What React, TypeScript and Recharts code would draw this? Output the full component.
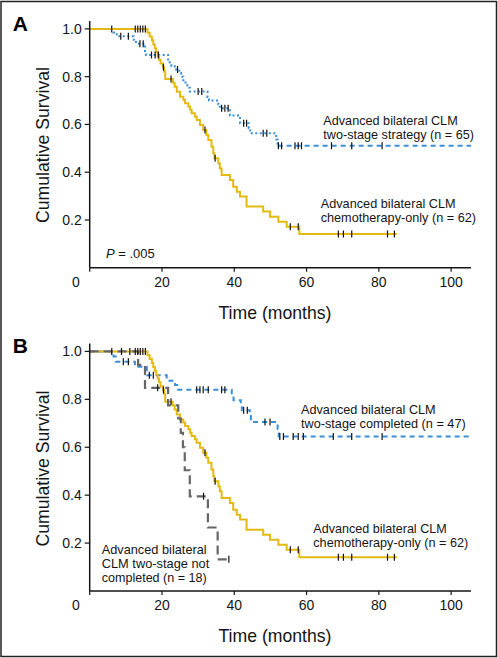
import React from "react";
import { ComposedChart, Line, Scatter, XAxis, YAxis } from "recharts";

// ---- Data ----
// Chemotherapy-only group (n = 62) — same curve in both panels
const chemoTime = [0, 16.0, 16.6, 17.2, 17.6, 18.0, 18.4, 18.8, 19.2, 19.6, 20.3, 20.6, 20.9, 23.0, 23.5, 24.1, 25.0, 25.9, 26.4, 27.3, 27.8, 28.2, 29.1, 29.6, 30.5, 31.4, 32.3, 32.8, 33.7, 34.2, 34.5, 35.6, 36.0, 36.5, 38.8, 39.7, 40.7, 41.6, 43.4, 48.0, 49.9, 52.2, 54.5, 58.0, 85.0];
const chemoSurv = [1.0, 0.984, 0.968, 0.952, 0.935, 0.919, 0.903, 0.887, 0.871, 0.855, 0.839, 0.822, 0.790, 0.774, 0.758, 0.737, 0.716, 0.703, 0.689, 0.675, 0.661, 0.647, 0.633, 0.619, 0.598, 0.577, 0.556, 0.535, 0.507, 0.479, 0.458, 0.437, 0.416, 0.388, 0.367, 0.339, 0.318, 0.298, 0.256, 0.235, 0.214, 0.193, 0.172, 0.141, 0.141];
const chemoCensorTime = [6.1, 12.6, 13.3, 14.0, 14.7, 15.4, 20.4, 22.5, 31.9, 34.7, 55.5, 57.7, 68.8, 70.2, 72.5, 82.4, 84.3];
const chemoCensorSurv = [1, 1, 1, 1, 1, 1, 0.839, 0.790, 0.577, 0.458, 0.172, 0.172, 0.141, 0.141, 0.141, 0.141, 0.141];

// Two-stage strategy (n = 65) — panel A
const twoStageTime = [0, 6.5, 7.5, 12.2, 12.8, 15.3, 15.6, 21.7, 22.6, 23.5, 24.8, 25.3, 25.9, 26.5, 27.0, 27.7, 32.6, 33.0, 35.6, 36.0, 38.8, 41.6, 44.0, 44.4, 51.6, 52.0, 105.5];
const twoStageSurv = [1.0, 0.985, 0.969, 0.954, 0.938, 0.907, 0.891, 0.860, 0.845, 0.830, 0.815, 0.800, 0.785, 0.770, 0.754, 0.738, 0.715, 0.700, 0.684, 0.668, 0.637, 0.605, 0.584, 0.563, 0.537, 0.511, 0.511];
const twoStageCensorTime = [8.6, 10.7, 13.9, 14.8, 17.1, 18.1, 19.0, 24.3, 30.0, 31.0, 36.5, 37.4, 38.3, 42.6, 43.4, 48.0, 49.0, 52.2, 53.1, 56.8, 57.7, 58.6, 66.9, 72.5, 80.9];
const twoStageCensorSurv = [0.969, 0.969, 0.938, 0.938, 0.891, 0.891, 0.891, 0.830, 0.738, 0.738, 0.668, 0.668, 0.668, 0.605, 0.605, 0.563, 0.563, 0.511, 0.511, 0.511, 0.511, 0.511, 0.511, 0.511, 0.511];

// Two-stage completed (n = 47) — panel B
const completedTime = [0, 6.6, 7.2, 12.5, 15.8, 21.3, 23.6, 24.5, 39.3, 39.8, 41.8, 42.1, 44.3, 44.6, 52.0, 52.3, 105.3];
const completedSurv = [1.0, 0.979, 0.957, 0.936, 0.900, 0.878, 0.860, 0.840, 0.818, 0.796, 0.775, 0.754, 0.730, 0.705, 0.676, 0.645, 0.645];
const completedCensorTime = [9.3, 10.7, 16.5, 17.6, 29.6, 30.5, 31.4, 32.8, 36.5, 37.4, 42.6, 43.6, 48.5, 49.9, 52.6, 53.6, 56.3, 57.7, 59.1, 67.4, 72.5, 80.9];
const completedCensorSurv = [0.957, 0.957, 0.900, 0.900, 0.840, 0.840, 0.840, 0.840, 0.840, 0.840, 0.754, 0.754, 0.705, 0.705, 0.645, 0.645, 0.645, 0.645, 0.645, 0.645, 0.645, 0.645];

// Two-stage not completed (n = 18) — panel B
const notCompTime = [0, 13.4, 15.3, 21.7, 24.5, 25.2, 25.8, 26.3, 27.7, 32.7, 35.4, 38.8];
const notCompSurv = [1.0, 0.944, 0.848, 0.775, 0.720, 0.660, 0.600, 0.504, 0.395, 0.265, 0.132, 0.132];
const notCompCensorTime = [8.8, 11.1, 18.8, 31.5, 38.5];
const notCompCensorSurv = [1, 1, 0.848, 0.395, 0.132];

const xTicks = [0, 20, 40, 60, 80, 100];
const yTicks = [0.2, 0.4, 0.6, 0.8, 1.0];

// ---- helpers ----
const rows = (t: number[], s: number[]) => t.map((v, i) => ({ t: v, s: s[i] }));

const FONT = "'Liberation Sans', Arial, Helvetica, sans-serif";
const YELLOW = "#e3b912";
const BLUE = "#3a8ed8";
const GRAY = "#666666";
const INK = "#151515";

const CensorMark = (props: any) => {
  const { cx, cy } = props;
  if (cx == null || cy == null) return <g />;
  return <line x1={cx} x2={cx} y1={cy - 3.5} y2={cy + 3.5} stroke="#111" strokeWidth={1.2} />;
};

const XTick = (props: any) => {
  const { x, y, payload } = props;
  const v = payload.value;
  const dx = v === 0 ? -13.7 : 0;
  return (
    <text x={x + dx} y={y} dy={13} textAnchor="middle" fontSize={14} fill={INK} fontFamily={FONT}>
      {v}
    </text>
  );
};

const YTick = (props: any) => {
  const { x, y, payload } = props;
  return (
    <text x={x} y={y} dy={5} textAnchor="end" fontSize={14} fill={INK} fontFamily={FONT}>
      {Number(payload.value).toFixed(1)}
    </text>
  );
};

type Series = { t: number[]; s: number[]; color: string; dash: string; width: number; split?: number; tailDash?: string };
type Cens = { t: number[]; s: number[] };

const Panel = ({ series, censors, top, marginTop, xAxisHeight }: { series: Series[]; censors: Cens[]; top: number; marginTop: number; xAxisHeight: number }) => {
  return (
    <div style={{ position: "absolute", left: 0, top, width: 498, height: 330 }}>
      <ComposedChart width={498} height={330} margin={{ top: marginTop, right: 27, bottom: 0, left: 0 }}>
        <XAxis
          type="number"
          dataKey="t"
          domain={[0, 105.5]}
          ticks={xTicks}
          interval={0}
          tick={<XTick />}
          tickSize={4}
          tickMargin={2}
          height={xAxisHeight}
          axisLine={{ stroke: INK, strokeWidth: 1.5 }}
          tickLine={{ stroke: INK, strokeWidth: 1.2 }}
          allowDataOverflow
        />
        <YAxis
          type="number"
          dataKey="s"
          domain={[0, 1.033]}
          ticks={yTicks}
          interval={0}
          tick={<YTick />}
          tickSize={5}
          tickMargin={3}
          width={89.7}
          axisLine={{ stroke: INK, strokeWidth: 1.5 }}
          tickLine={{ stroke: INK, strokeWidth: 1.2 }}
          allowDataOverflow
        />
        {series.map((sr, i) => {
          const data = rows(sr.t, sr.s);
          if (sr.split != null) {
            const head = data.slice(0, sr.split + 1);
            const tail = data.slice(sr.split);
            return [
              <Line key={`h${i}`} data={head} dataKey="s" type="stepAfter" stroke={sr.color} strokeWidth={sr.width} strokeDasharray={sr.dash} dot={false} activeDot={false} isAnimationActive={false} />,
              <Line key={`t${i}`} data={tail} dataKey="s" type="stepAfter" stroke={sr.color} strokeWidth={sr.width} strokeDasharray={sr.tailDash} dot={false} activeDot={false} isAnimationActive={false} />,
            ];
          }
          return (
            <Line key={i} data={data} dataKey="s" type="stepAfter" stroke={sr.color} strokeWidth={sr.width} strokeDasharray={sr.dash} dot={false} activeDot={false} isAnimationActive={false} />
          );
        })}
        {censors.map((c, i) => (
          <Scatter key={`c${i}`} data={rows(c.t, c.s)} dataKey="s" shape={<CensorMark />} isAnimationActive={false} />
        ))}
      </ComposedChart>
    </div>
  );
};

const T = ({ x, y, len, size = 12.6, children }: any) => (
  <text x={x} y={y} fontSize={size} fill={INK} fontFamily={FONT} textLength={len} lengthAdjust="spacingAndGlyphs">
    {children}
  </text>
);

export default function App() {
  const seriesA: Series[] = [
    { t: twoStageTime, s: twoStageSurv, color: BLUE, dash: "2 2.5", width: 2, split: twoStageTime.length - 2, tailDash: "5 4" },
    { t: chemoTime, s: chemoSurv, color: YELLOW, dash: "", width: 2 },
  ];
  const censA: Cens[] = [
    { t: twoStageCensorTime, s: twoStageCensorSurv },
    { t: chemoCensorTime, s: chemoCensorSurv },
  ];
  const seriesB: Series[] = [
    { t: completedTime, s: completedSurv, color: BLUE, dash: "5 4", width: 2 },
    { t: chemoTime, s: chemoSurv, color: YELLOW, dash: "", width: 2 },
    { t: notCompTime, s: notCompSurv, color: GRAY, dash: "9 5", width: 2.2 },
  ];
  const censB: Cens[] = [
    { t: completedCensorTime, s: completedCensorSurv },
    { t: chemoCensorTime, s: chemoCensorSurv },
    { t: notCompCensorTime, s: notCompCensorSurv },
  ];

  return (
    <div style={{ position: "absolute", left: 0, top: 0, width: 498, height: 658, background: "#fff", overflow: "hidden" }}>
      <Panel series={seriesA} censors={censA} top={0} marginTop={21} xAxisHeight={62.25} />
      <Panel series={seriesB} censors={censB} top={322} marginTop={21.5} xAxisHeight={61} />
      <svg width={498} height={658} style={{ position: "absolute", left: 0, top: 0, pointerEvents: "none" }}>
        <rect x={1} y={1.5} width={495.5} height={655} fill="none" stroke="#222" strokeWidth={1.5} />
        {/* Panel letters */}
        <text x={12.7} y={30.7} fontSize={21} fontWeight="bold" fill="#000" fontFamily={FONT}>A</text>
        <text x={12.7} y={353.3} fontSize={21} fontWeight="bold" fill="#000" fontFamily={FONT}>B</text>
        {/* Axis titles */}
        <text transform="translate(42,145) rotate(-90)" textAnchor="middle" dominantBaseline="central" fontSize={19} fill={INK} fontFamily={FONT} textLength={156} lengthAdjust="spacingAndGlyphs">Cumulative Survival</text>
        <text transform="translate(42,468.5) rotate(-90)" textAnchor="middle" dominantBaseline="central" fontSize={19} fill={INK} fontFamily={FONT} textLength={156} lengthAdjust="spacingAndGlyphs">Cumulative Survival</text>
        <text x={275} y={318.5} textAnchor="middle" fontSize={19} fill={INK} fontFamily={FONT} textLength={113} lengthAdjust="spacingAndGlyphs">Time (months)</text>
        <text x={275} y={641.7} textAnchor="middle" fontSize={19} fill={INK} fontFamily={FONT} textLength={113} lengthAdjust="spacingAndGlyphs">Time (months)</text>
        {/* Panel A annotations */}
        <T x={323.3} y={124.8} len={134.4}>Advanced bilateral CLM</T>
        <T x={323.3} y={138.9} len={150.7}>two-stage strategy (n = 65)</T>
        <T x={320.7} y={208.3} len={135}>Advanced bilateral CLM</T>
        <T x={320.7} y={222.4} len={155.3}>chemotherapy-only (n = 62)</T>
        <text x={106} y={258.3} fontSize={13} fill={INK} fontFamily={FONT}>
          <tspan fontStyle="italic">P</tspan>
          <tspan> = .005</tspan>
        </text>
        {/* Panel B annotations */}
        <T x={301} y={413.6} len={134.7}>Advanced bilateral CLM</T>
        <T x={301} y={427.7} len={164.7}>two-stage completed (n = 47)</T>
        <T x={313.3} y={533.3} len={133.4}>Advanced bilateral CLM</T>
        <T x={313.3} y={547.4} len={155}>chemotherapy-only (n = 62)</T>
        <T x={101.7} y={553.9} len={105}>Advanced bilateral</T>
        <T x={101.7} y={568} len={107.6}>CLM two-stage not</T>
        <T x={101.7} y={582.1} len={105}>completed (n = 18)</T>
      </svg>
    </div>
  );
}
